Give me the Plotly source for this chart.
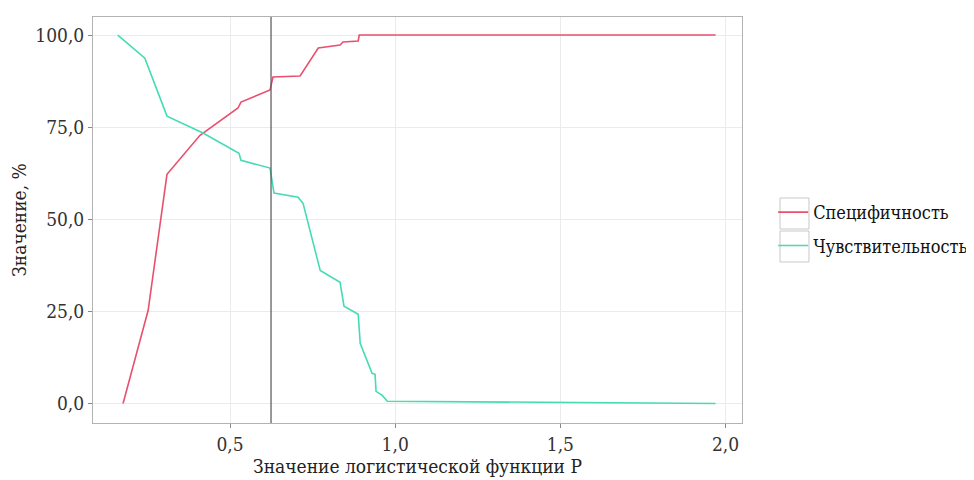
import plotly.graph_objects as go

# Data
spec_x = [0.176, 0.252, 0.309, 0.409, 0.524, 0.533, 0.621, 0.630, 0.712, 0.767, 0.833, 0.842, 0.888, 0.891, 1.97]
spec_y = [0.0, 25.3, 62.2, 72.8, 80.2, 81.8, 85.1, 88.6, 88.9, 96.5, 97.3, 98.1, 98.4, 100.0, 100.0]

sens_x = [0.160, 0.242, 0.309, 0.418, 0.527, 0.533, 0.621, 0.633, 0.706, 0.721, 0.773, 0.833, 0.845,
          0.888, 0.894, 0.930, 0.939, 0.942, 0.961, 0.976, 1.97]
sens_y = [100.0, 93.7, 78.0, 73.4, 67.9, 66.0, 63.9, 57.1, 56.0, 54.3, 36.1, 32.9, 26.4,
          24.2, 16.3, 8.2, 7.9, 3.3, 2.2, 0.6, 0.0]

cutoff = 0.624

x_ticks = [0.5, 1.0, 1.5, 2.0]
x_labels = ["0,5", "1,0", "1,5", "2,0"]
y_ticks = [0, 25, 50, 75, 100]
y_labels = ["0,0", "25,0", "50,0", "75,0", "100,0"]

names = ["Специфичность", "Чувствительность"]
colors = ["#e8506e", "#45dbb5"]

FONT = "DejaVu Serif Condensed, Liberation Serif, serif"
FS = 19

fig = go.Figure()
fig.add_trace(go.Scatter(x=spec_x, y=spec_y, mode="lines", name=names[0], legendgroup="a",
                         line=dict(color=colors[0], width=1.6)))
fig.add_trace(go.Scatter(x=sens_x, y=sens_y, mode="lines", name=names[1], legendgroup="b",
                         line=dict(color=colors[1], width=1.6)))

fig.add_shape(type="line", xref="x", yref="paper", x0=cutoff, x1=cutoff, y0=0, y1=1,
              line=dict(color="#555555", width=1.2))

# legend key boxes (ggplot-style)
for (y0, y1) in [(0.4778, 0.5542), (0.3966, 0.4729)]:
    fig.add_shape(type="rect", xref="paper", yref="paper", x0=1.0586, x1=1.1032, y0=y0, y1=y1,
                  line=dict(color="#c8c8c8", width=1), fillcolor="rgba(0,0,0,0)", layer="below")

fig.update_layout(
    width=966, height=472,
    margin=dict(l=85, r=232, t=9, b=57, autoexpand=False),
    paper_bgcolor="white", plot_bgcolor="white",
    font=dict(family=FONT, size=FS, color="#222222"),
    legend=dict(x=1.048, y=0.478, xanchor="left", yanchor="middle",
                font=dict(family=FONT, size=18, color="#111111"),
                bgcolor="rgba(0,0,0,0)", tracegroupgap=7, traceorder="grouped"),
    showlegend=True,
)
fig.update_xaxes(
    range=[0.085, 2.05], tickvals=x_ticks, ticktext=x_labels,
    showgrid=True, gridcolor="#ebebeb", gridwidth=1,
    ticks="outside", ticklen=4, tickcolor="#888888",
    showline=True, linecolor="#b3b3b3", mirror=True, zeroline=False,
    title=dict(text="Значение логистической функции P", font=dict(family=FONT, size=FS), standoff=4),
    tickfont=dict(family=FONT, size=FS, color="#333333"),
)
fig.update_yaxes(
    range=[-5.3, 104.9], tickvals=y_ticks, ticktext=y_labels,
    showgrid=True, gridcolor="#ebebeb", gridwidth=1,
    ticks="outside", ticklen=4, tickcolor="#888888",
    showline=True, linecolor="#b3b3b3", mirror=True, zeroline=False,
    title=dict(text="Значение, %", font=dict(family=FONT, size=FS), standoff=6),
    tickfont=dict(family=FONT, size=FS, color="#333333"),
)

fig.write_html("out.html")
